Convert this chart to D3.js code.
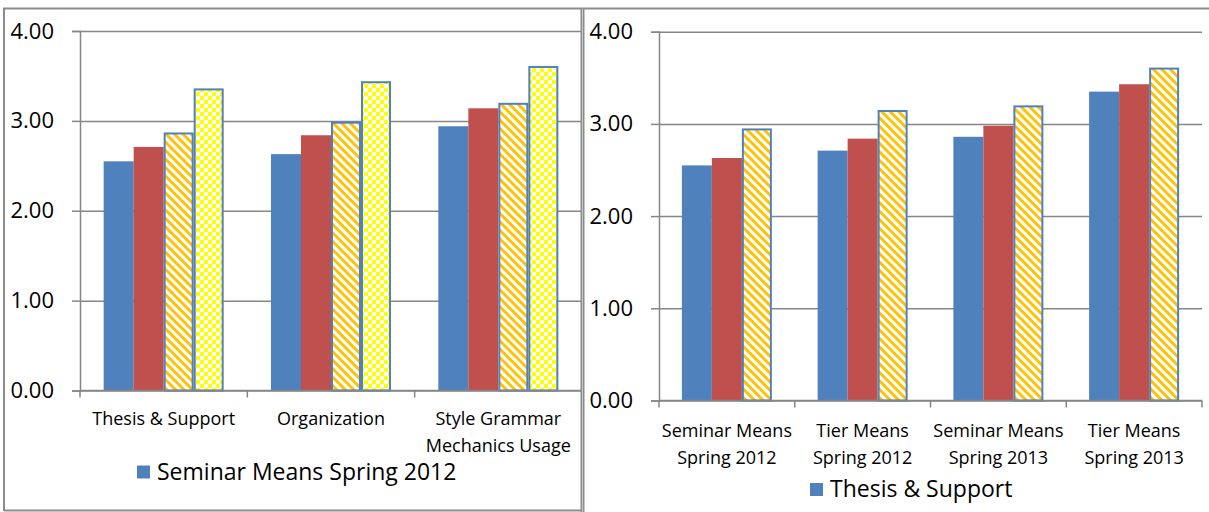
<!DOCTYPE html>
<html>
<head>
<meta charset="utf-8">
<script src="https://cdn.jsdelivr.net/npm/d3@7"></script>
<style>
  html, body { margin: 0; padding: 0; background: #fff; }
  svg { display: block; font-family: "Open Sans", "Noto Sans", sans-serif; }
</style>
</head>
<body>
<svg id="chart" width="1209" height="512"></svg>
<script>
// ---------- data ----------
const areas = ["Thesis & Support", "Organization", "Style Grammar Mechanics Usage"];
const areaLabels = [["Thesis & Support"], ["Organization"], ["Style Grammar", "Mechanics Usage"]];
const groups = ["Seminar Means Spring 2012", "Tier Means Spring 2012", "Seminar Means Spring 2013", "Tier Means Spring 2013"];
const groupLabels = [["Seminar Means", "Spring 2012"], ["Tier Means", "Spring 2012"], ["Seminar Means", "Spring 2013"], ["Tier Means", "Spring 2013"]];
const seminar2012 = [2.55, 2.63, 2.94];
const tier2012 = [2.71, 2.84, 3.14];
const seminar2013 = [2.86, 2.98, 3.19];
const tier2013 = [3.35, 3.43, 3.60];
const yTicks = [0, 1, 2, 3, 4];

const groupValues = [seminar2012, tier2012, seminar2013, tier2013];

const svg = d3.select("#chart");
const defs = svg.append("defs");

// patterns
const hatch = defs.append("pattern").attr("id", "hatch").attr("patternUnits", "userSpaceOnUse")
  .attr("width", 6).attr("height", 6).attr("patternTransform", "rotate(45)");
hatch.append("rect").attr("width", 6).attr("height", 6).attr("fill", "#fff");
hatch.append("rect").attr("width", 6).attr("height", 2.9).attr("fill", "#FFC000");

const checker = defs.append("pattern").attr("id", "checker").attr("patternUnits", "userSpaceOnUse")
  .attr("width", 8).attr("height", 8);
checker.append("rect").attr("width", 8).attr("height", 8).attr("fill", "#fff");
checker.append("rect").attr("width", 4).attr("height", 4).attr("fill", "#FFFF00");
checker.append("rect").attr("x", 4).attr("y", 4).attr("width", 4).attr("height", 4).attr("fill", "#FFFF00");

const fills = ["#4F81BD", "#C0504D", "url(#hatch)", "url(#checker)"];
const gridColor = "#868686";

// ---------- frames ----------
const frame = svg.append("g").attr("fill", "none").attr("stroke", "#8C8C8C");
frame.append("line").attr("x1", 3).attr("x2", 1209).attr("y1", 8.5).attr("y2", 8.5).attr("stroke-width", 2);
frame.append("line").attr("x1", 4).attr("x2", 4).attr("y1", 8).attr("y2", 511).attr("stroke-width", 2);
frame.append("line").attr("x1", 4).attr("x2", 582).attr("y1", 510.5).attr("y2", 510.5).attr("stroke-width", 2);

function drawChart(opts) {
  const g = svg.append("g");
  const x0 = d3.scaleBand().domain(opts.categories).range([opts.left, opts.right])
    .paddingInner(opts.pad).paddingOuter(opts.pad / 2);
  const x1 = d3.scaleBand().domain(opts.series).range([0, x0.bandwidth()]);
  const y = d3.scaleLinear().domain([0, 4]).range([opts.bottom, opts.top]);

  // gridlines
  const grid = g.append("g").attr("transform", `translate(${opts.left},0)`)
    .call(d3.axisLeft(y).tickValues(yTicks).tickSize(-(opts.right - opts.left)).tickFormat(""));
  grid.select(".domain").remove();
  grid.selectAll("line").attr("stroke", gridColor).attr("stroke-width", 1.5);

  // y axis
  const ya = g.append("g").attr("transform", `translate(${opts.left},0)`)
    .call(d3.axisLeft(y).tickValues(yTicks).tickSize(8).tickPadding(opts.ypad).tickFormat(d3.format(".2f")));
  ya.select(".domain").attr("stroke", gridColor).attr("stroke-width", 1.5);
  ya.selectAll("line").attr("stroke", gridColor).attr("stroke-width", 1.5);
  ya.selectAll("text").attr("font-size", 22).attr("fill", "#000").attr("font-family", "Open Sans");

  // bars
  opts.series.forEach((s, si) => {
    const outlined = si > 1;
    g.append("g").selectAll("rect").data(opts.categories).join("rect")
      .attr("x", c => x0(c) + x1(s) + (outlined ? 1 : 0))
      .attr("width", x1.bandwidth() - (outlined ? 2 : 0))
      .attr("y", (c, ci) => y(opts.value(si, ci)))
      .attr("height", (c, ci) => y(0) - y(opts.value(si, ci)))
      .attr("fill", fills[si])
      .attr("stroke", outlined ? "#4F81BD" : null)
      .attr("stroke-width", outlined ? 2 : 0);
  });

  // x axis
  const xa = g.append("g").attr("transform", `translate(0,${opts.bottom})`);
  xa.append("line").attr("x1", opts.left).attr("x2", opts.right)
    .attr("stroke", gridColor).attr("stroke-width", 1.5);
  const bounds = d3.range(opts.categories.length + 1).map(i => opts.left + i * x0.step());
  xa.selectAll("line.tk").data(bounds).join("line").attr("class", "tk")
    .attr("x1", d => d).attr("x2", d => d).attr("y1", 0).attr("y2", 7)
    .attr("stroke", gridColor).attr("stroke-width", 1.5);
  const lab = g.append("g").selectAll("text").data(opts.categories).join("text")
    .attr("text-anchor", "middle").attr("font-size", opts.catSize).attr("fill", "#000")
    .attr("x", c => x0(c) + x0.bandwidth() / 2)
    .attr("y", opts.catY);
  lab.each(function (c, i) {
    const t = d3.select(this);
    opts.labels[i].forEach((line, li) => {
      t.append("tspan").attr("x", x0(c) + x0.bandwidth() / 2).attr("dy", li === 0 ? 0 : opts.catLine).text(line);
    });
  });

  // legend (first entry visible)
  const lg = g.append("g");
  lg.append("rect").attr("x", opts.legX).attr("y", opts.legY - 14).attr("width", 13).attr("height", 13).attr("fill", fills[0]);
  lg.append("text").attr("x", opts.legX + 20).attr("y", opts.legY).attr("font-size", 23).attr("fill", "#000").text(opts.series[0]);
}

// left chart: categories = areas, series = groups
drawChart({
  categories: areas, series: groups, labels: areaLabels,
  value: (si, ci) => groupValues[si][ci],
  left: 80, right: 582, top: 31, bottom: 390.5, pad: 1 - 120 / 167.3,
  ypad: 18, catSize: 18, catY: 424.5, catLine: 27, legX: 137, legY: 479.5
});

// right chart: categories = groups, series = areas
drawChart({
  categories: groups, series: areas, labels: groupLabels,
  value: (si, ci) => groupValues[ci][si],
  left: 659, right: 1202, top: 31.7, bottom: 400.5, pad: 1 - 90 / 135.75,
  ypad: 18, catSize: 18, catY: 436.5, catLine: 27, legX: 810, legY: 497
});

// divider between panels
svg.append("line").attr("x1", 582.5).attr("x2", 582.5).attr("y1", 8).attr("y2", 512)
  .attr("stroke", "#8C8C8C").attr("stroke-width", 4);
svg.append("line").attr("x1", 582.5).attr("x2", 582.5).attr("y1", 9).attr("y2", 512)
  .attr("stroke", "#C8C8C8").attr("stroke-width", 1);
</script>
</body>
</html>
